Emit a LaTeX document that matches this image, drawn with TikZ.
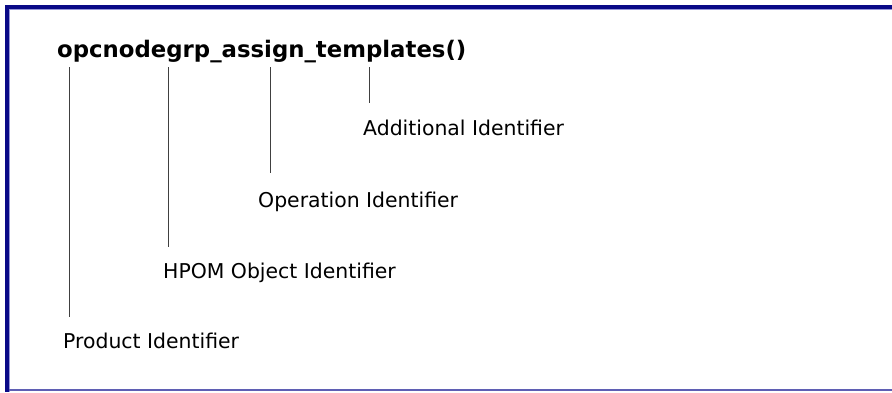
\documentclass[tikz,border=0pt]{standalone}
\usepackage{fontspec}
\setmainfont{DejaVu Sans}
\usetikzlibrary{positioning}
\definecolor{navy}{RGB}{10,10,135}
\definecolor{lav}{RGB}{150,150,215}
\definecolor{edge}{RGB}{95,95,180}
\tikzset{lbl/.style={anchor=base west,inner sep=0pt,font=\fontsize{20.4}{24}\selectfont},
  tick/.style={draw=black!75,line width=0.9pt}}

\begin{document}
\begin{tikzpicture}[x=1pt,y=-1pt]
    \useasboundingbox (0,0) rectangle (892,392);
    % frame
    \fill[navy] (5,5) rectangle (892,9);
    \fill[navy] (5,5) rectangle (9,392);
    \draw[lav,line width=1.2pt] (9,9.6) -- (892,9.6) (9.6,9) -- (9.6,392);
    \draw[edge,line width=2pt] (9,390) -- (892,390);
    \node[lbl,font=\fontsize{22.8}{26}\selectfont\bfseries] (fname) at (57,57) {opcnodegrp\_assign\_templates()};
    \foreach \x/\yb/\lx/\ly/\nm/\txt in {69/317/63/348/prod/Product Identifier,
      168/247/163/278/obj/HPOM Object Identifier,
      270/173/258/207/oper/Operation Identifier,
      369/103/363/135/add/Additional Identifier}{
      \node[lbl] (\nm) at (\lx,\ly) {\txt};
      \coordinate (\nm top) at (\x,67);
      \coordinate (\nm end) at (\x,\yb);
      \draw[tick] (\nm top) -- (\nm end);
    }
\end{tikzpicture}
\end{document}
